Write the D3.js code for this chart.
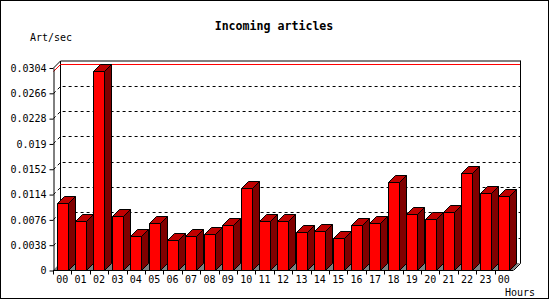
<!DOCTYPE html>
<html>
<head>
<meta charset="utf-8">
<script src="https://cdn.jsdelivr.net/npm/d3@7"></script>
<style>
  body { margin: 0; background: #fff; }
  svg { display: block; }
  text { font-family: "DejaVu Sans Mono", monospace; font-size: 10px; fill: #000; }
</style>
</head>
<body>
<svg></svg>
<script>
// Data
const hours = ['00', '01', '02', '03', '04', '05', '06', '07', '08', '09', '10', '11',
    '12', '13', '14', '15', '16', '17', '18', '19', '20', '21', '22', '23', '00']
const artPerSec = [0.0100, 0.0073, 0.0299, 0.0081, 0.0051, 0.0071, 0.0045, 0.0051, 0.0054,
    0.0067, 0.0123, 0.0073, 0.0073, 0.0057, 0.0058, 0.0048, 0.0067, 0.0070, 0.0132,
    0.0084, 0.0076, 0.0087, 0.0145, 0.0115, 0.0111]
const yTicks = [0, 0.0038, 0.0076, 0.0114, 0.0152, 0.019, 0.0228, 0.0266, 0.0304]
const yTickLabels = ['0', '0.0038', '0.0076', '0.0114', '0.0152', '0.019', '0.0228', '0.0266', '0.0304']

// Canvas setup
let width = 550
let height = 300
let svg = d3.select('svg').attr('width', width).attr('height', height)

let plotLeft = 53
let plotRight = 513
let plotBottom = 270
let depth = 7

// Scales
let yScale = d3.scaleLinear()
    .domain([0, 0.0304])
    .range([plotBottom, 67.5])

let xBand = d3.scaleBand()
    .domain(d3.range(hours.length))
    .range([plotLeft, plotRight])
    .paddingInner(0.402)
    .paddingOuter(0.201)

let step = xBand.step()
let plotTop = yScale(0.0304)

// outer frame
svg.append('rect')
    .attr('x', 0.5).attr('y', 0.5)
    .attr('width', width - 2).attr('height', height - 2)
    .attr('fill', 'none').attr('stroke', '#000')

// title and labels
svg.append('text')
    .attr('x', 274).attr('y', 30)
    .attr('text-anchor', 'middle')
    .style('font-weight', 'bold')
    .style('font-size', '11.6px')
    .text('Incoming articles')

svg.append('text').attr('x', 30).attr('y', 41).text('Art/sec')
svg.append('text').attr('x', 505).attr('y', 296).text('Hours')

// back wall
svg.append('path')
    .attr('d', `M${plotLeft + depth + 0.5},${plotBottom - depth}V${plotTop - depth + 0.5}H${plotRight + depth + 0.5}V${plotBottom - depth}`)
    .attr('fill', '#fff').attr('stroke', '#000')

svg.append('path')
    .attr('d', `M${plotLeft + 0.5},${plotTop + 0.5}L${plotLeft + depth + 0.5},${plotTop - depth + 0.5}`)
    .attr('fill', 'none').attr('stroke', '#000')

// dashed grid lines (side wall, back wall)
svg.selectAll('.grid')
    .data(yTicks.slice(1, -1))
    .enter()
    .append('path')
    .attr('class', 'grid')
    .attr('d', (d) => {
        let y = Math.round(yScale(d)) + 0.5
        return `M${plotLeft + 0.5},${y}L${plotLeft + depth + 0.5},${y - depth}H${plotRight + depth}`
    })
    .attr('fill', 'none')
    .attr('stroke', '#000')
    .attr('stroke-dasharray', '3,3')

// max line in red
let maxY = Math.round(yScale(d3.max(artPerSec))) + 0.5
svg.append('path')
    .attr('d', `M${plotLeft + 0.5},${maxY}L${plotLeft + depth + 0.5},${maxY - depth}H${plotRight + depth}`)
    .attr('fill', 'none')
    .attr('stroke', '#ff0000')

// floor
svg.append('path')
    .attr('d', `M${plotLeft},${plotBottom + 0.5}H${plotRight}L${plotRight + depth},${plotBottom - depth}H${plotLeft + depth}Z`)
    .attr('fill', '#808080')

// right wall edge
svg.append('path')
    .attr('d', `M${plotRight + depth + 0.5},${plotTop - depth}V${plotBottom - depth + 0.5}L${plotRight + 0.5},${plotBottom + 0.5}`)
    .attr('fill', 'none').attr('stroke', '#000')

// bars
let bars = svg.selectAll('.bar')
    .data(artPerSec)
    .enter()
    .append('g')
    .attr('class', 'bar')

let bx0 = (i) => Math.round(xBand(i)) + 0.5
let bx1 = (i) => Math.round(xBand(i)) + 11.5
let by = (d) => Math.round(yScale(d)) + 0.5
let yb = plotBottom + 0.5

bars.append('path')
    .attr('d', (d, i) => `M${bx0(i)},${yb}V${by(d)}H${bx1(i)}V${yb}Z`)
    .attr('fill', '#ff0000').attr('stroke', '#000')

bars.append('path')
    .attr('d', (d, i) => `M${bx0(i)},${by(d)}L${bx0(i) + depth},${by(d) - depth}H${bx1(i) + depth}L${bx1(i)},${by(d)}Z`)
    .attr('fill', '#c00000').attr('stroke', '#000')

bars.append('path')
    .attr('d', (d, i) => `M${bx1(i)},${by(d)}L${bx1(i) + depth},${by(d) - depth}V${yb - depth}L${bx1(i)},${yb}Z`)
    .attr('fill', '#800000').attr('stroke', '#000')

// y axis
let yAxis = d3.axisLeft(yScale)
    .tickValues(yTicks)
    .tickFormat((d, i) => yTickLabels[i])
    .tickSize(4)
    .tickSizeOuter(0)
    .tickPadding(3)

let yAxisG = svg.append('g')
    .attr('transform', 'translate(' + (plotLeft + 0.5) + ',0.5)')
    .call(yAxis)
yAxisG.select('.domain').attr('stroke', '#000')
yAxisG.selectAll('text')
    .style('font-family', '"DejaVu Sans Mono", monospace')
    .style('font-size', '10px')
    .attr('fill', '#000')

// x axis
svg.append('line')
    .attr('x1', plotLeft).attr('x2', plotRight)
    .attr('y1', yb).attr('y2', yb)
    .attr('stroke', '#000')

svg.selectAll('.xtick')
    .data(d3.range(hours.length))
    .enter()
    .append('line')
    .attr('class', 'xtick')
    .attr('x1', (i) => Math.round(plotLeft + i * step) + 0.5)
    .attr('x2', (i) => Math.round(plotLeft + i * step) + 0.5)
    .attr('y1', yb).attr('y2', yb + 4)
    .attr('stroke', '#000')

svg.selectAll('.xlabel')
    .data(hours)
    .enter()
    .append('text')
    .attr('class', 'xlabel')
    .attr('x', (d, i) => xBand(i) + xBand.bandwidth() / 2)
    .attr('y', 283)
    .attr('text-anchor', 'middle')
    .text((d) => d)
</script>
</body>
</html>
